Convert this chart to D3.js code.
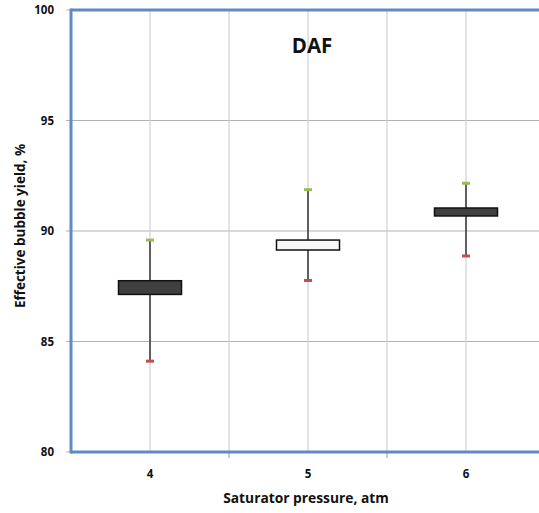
<!DOCTYPE html>
<html><head><meta charset="utf-8">
<script src="https://cdn.jsdelivr.net/npm/d3@7/dist/d3.min.js"></script>
<style>body{margin:0;background:#fff;} text{font-family:"Open Sans",Lato,sans-serif;font-weight:bold;}</style>
</head><body>
<svg id="c" width="539" height="513"></svg>
<script>
const categories = ["4", "5", "6"];
const boxHigh = [87.75, 89.59, 91.04];
const boxLow = [87.13, 89.14, 90.68];
const whiskerMax = [89.59, 91.87, 92.16];
const whiskerMin = [84.11, 87.76, 88.87];
const boxFill = ["#404040", "#f8f8f8", "#404040"];
const yTicks = [80, 85, 90, 95, 100];

const svg = d3.select("#c");
const L = 71, T = 10, B = 452, R = 545;
const x = d3.scaleBand().domain(categories).range([L, R]).paddingInner(0).paddingOuter(0);
const y = d3.scaleLinear().domain([80, 100]).range([B, T]);
const bw = x.bandwidth();

// horizontal gridlines
svg.append("g").selectAll("line").data(yTicks).join("line")
  .attr("x1", L - 5).attr("x2", R).attr("y1", d => y(d)).attr("y2", d => y(d))
  .attr("stroke", "#b3b3b3").attr("stroke-width", 1.2);
// vertical gridlines: category centres and boundaries
const vlines = [];
categories.forEach(c => { vlines.push(x(c) + bw / 2); vlines.push(x(c) + bw); });
svg.append("g").selectAll("line").data(vlines).join("line")
  .attr("x1", d => d).attr("x2", d => d).attr("y1", T).attr("y2", B)
  .attr("stroke", "#d0d0d0").attr("stroke-width", 1.2);
// bottom ticks at boundaries
svg.append("g").selectAll("line").data(categories.map(c => x(c) + bw)).join("line")
  .attr("x1", d => d).attr("x2", d => d).attr("y1", B).attr("y2", B + 6)
  .attr("stroke", "#999").attr("stroke-width", 1);

// axes frame
svg.append("line").attr("x1", L).attr("x2", 539).attr("y1", T).attr("y2", T).attr("stroke", "#6189c2").attr("stroke-width", 3);
svg.append("line").attr("x1", L).attr("x2", 539).attr("y1", B).attr("y2", B).attr("stroke", "#6189c2").attr("stroke-width", 3);
svg.append("line").attr("x1", L).attr("x2", L).attr("y1", T - 1.5).attr("y2", B + 1.5).attr("stroke", "#6189c2").attr("stroke-width", 3);

// y tick labels
svg.append("g").selectAll("text").data(yTicks).join("text")
  .attr("x", 54).attr("y", d => y(d) + 4).attr("text-anchor", "end")
  .attr("font-size", 11.5).attr("fill", "#111").text(d => d);
// x tick labels
svg.append("g").selectAll("text").data(categories).join("text")
  .attr("x", d => x(d) + bw / 2).attr("y", 478).attr("text-anchor", "middle")
  .attr("font-size", 11.5).attr("fill", "#111").text(d => d);

// boxes
const g = svg.append("g");
categories.forEach((c, i) => {
  const cx = x(c) + bw / 2;
  g.append("line").attr("x1", cx).attr("x2", cx).attr("y1", y(whiskerMax[i])).attr("y2", y(whiskerMin[i]))
    .attr("stroke", "#333").attr("stroke-width", 1.5);
  g.append("rect").attr("x", cx - 31.5).attr("width", 63)
    .attr("y", y(boxHigh[i])).attr("height", y(boxLow[i]) - y(boxHigh[i]))
    .attr("fill", boxFill[i]).attr("stroke", "#111").attr("stroke-width", 1.5);
  g.append("rect").attr("x", cx - 4).attr("width", 8).attr("y", y(whiskerMax[i]) - 1.5).attr("height", 3).attr("fill", "#9bbb59");
  g.append("rect").attr("x", cx - 4).attr("width", 8).attr("y", y(whiskerMin[i]) - 1.5).attr("height", 3).attr("fill", "#c0504d");
});

svg.append("text").attr("x", 312).attr("y", 53).attr("text-anchor", "middle").attr("font-size", 20.5).attr("fill", "#111").text("DAF");
svg.append("text").attr("x", 306).attr("y", 503).attr("text-anchor", "middle").attr("font-size", 13.8).attr("fill", "#111").text("Saturator pressure, atm");
svg.append("text").attr("transform", "translate(25,226) rotate(-90)").attr("text-anchor", "middle").attr("font-size", 13.5).attr("fill", "#111").text("Effective bubble yield, %");
</script>
</body></html>
